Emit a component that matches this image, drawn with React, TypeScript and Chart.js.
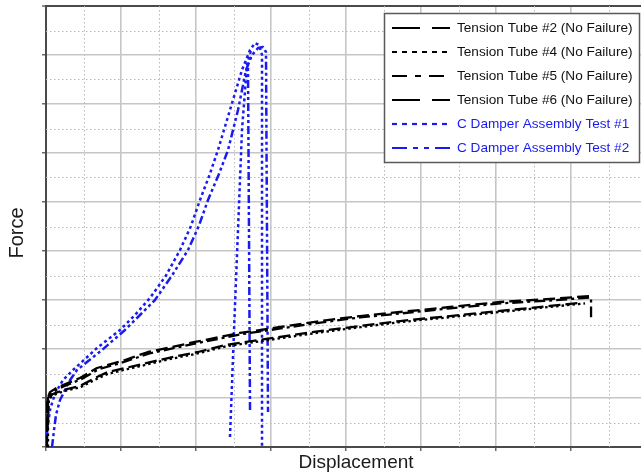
import { useEffect, useRef } from "react";
import { Chart, registerables } from "chart.js";

Chart.register(...registerables);

// Axis extents in grid units (one major grid cell = 1 unit)
const X_MAX = 7.933;
const Y_MAX = 9;

const X_TITLE = "Displacement";
const Y_TITLE = "Force";

const SERIES_LABELS = [
  "Tension Tube #2 (No Failure)",
  "Tension Tube #4 (No Failure)",
  "Tension Tube #5 (No Failure)",
  "Tension Tube #6 (No Failure)",
  "C Damper Assembly Test #1",
  "C Damper Assembly Test #2",
];

type Pt = [number, number] | null;

// Tension tube load curves (displacement, force)
const TUBE_2: Pt[] = [
  [0, 0], [0.013, 0.55], [0.013, 0.96], [0.053, 1.12], [0.133, 1.2], [0.227, 1.265],
  [0.453, 1.408], [0.68, 1.612], [1.013, 1.755], [1.36, 1.939], [1.987, 2.143],
  [2.587, 2.327], [3.12, 2.449], [3.653, 2.571], [4.187, 2.673], [4.72, 2.755],
  [5.387, 2.857], [6.053, 2.959], [6.72, 3.02], [7.253, 3.082],
];

const TUBE_4: Pt[] = [
  [0.027, 0], [0.027, 0.55], [0.04, 0.98], [0.1, 1.06], [0.24, 1.14], [0.46, 1.22],
  [0.69, 1.4], [0.84, 1.5], [1.24, 1.645], [1.64, 1.79], [2.04, 1.915], [2.4, 2.055],
  [3.13, 2.22], [3.66, 2.34], [4.19, 2.445], [4.73, 2.55], [5.39, 2.65], [6.06, 2.755],
  [6.72, 2.86], [7.187, 2.93],
];

const TUBE_5: Pt[] = [
  [0.013, 0], [0.02, 0.6], [0.027, 1.0], [0.07, 1.1], [0.15, 1.18], [0.24, 1.24],
  [0.47, 1.385], [0.7, 1.585], [1.03, 1.73], [1.38, 1.91], [2.0, 2.115], [2.6, 2.3],
  [3.13, 2.42], [3.66, 2.54], [4.19, 2.645], [4.73, 2.725], [5.39, 2.83], [6.06, 2.93],
  [6.72, 2.99], [7.267, 3.05], [7.267, 2.65],
];

const TUBE_6: Pt[] = [
  [0, 0], [0.027, 0.55], [0.027, 1.0], [0.093, 1.082], [0.227, 1.163], [0.453, 1.245],
  [0.68, 1.429], [0.827, 1.531], [1.227, 1.673], [1.627, 1.816], [2.027, 1.939],
  [2.387, 2.082], [3.12, 2.245], [3.653, 2.367], [4.187, 2.469], [4.72, 2.571],
  [5.387, 2.673], [6.053, 2.776], [6.72, 2.878], [7.12, 2.94],
];

// C damper assembly tests: loading to peak, then unloading branches
const DAMPER_1: Pt[] = [
  [0, 0], [0.013, 0.245], [0.027, 0.449], [0.053, 0.755], [0.093, 0.959], [0.133, 1.122],
  [0.227, 1.367], [0.36, 1.571], [0.68, 2.02], [0.987, 2.388], [1.187, 2.694],
  [1.387, 3.041], [1.6, 3.5], [1.787, 4.02], [1.93, 4.5], [2.053, 5.041], [2.18, 5.55],
  [2.293, 6.061], [2.453, 6.878], [2.613, 7.694], [2.72, 8.102], [2.787, 8.245],
  [2.84, 8.204], [2.88, 8.0], [2.88, 0],
  null,
  [2.453, 0.204], [2.507, 2.388], [2.56, 4.429], [2.613, 6.469], [2.68, 7.796], [2.733, 8.1],
];

const DAMPER_2: Pt[] = [
  [0.08, 0], [0.107, 0.347], [0.133, 0.653], [0.187, 0.959], [0.24, 1.122], [0.293, 1.306],
  [0.413, 1.571], [0.747, 1.98], [1.053, 2.388], [1.253, 2.694], [1.453, 3.0],
  [1.68, 3.5], [1.893, 4.02], [2.04, 4.52], [2.16, 5.041], [2.3, 5.55], [2.427, 6.061],
  [2.56, 6.878], [2.667, 7.694], [2.747, 8.0], [2.827, 8.143], [2.893, 8.163],
  [2.933, 8.061], [2.96, 0.714],
  null,
  [2.72, 0.755], [2.707, 4.224], [2.693, 7.837],
];

const SERIES_DATA = [TUBE_2, TUBE_4, TUBE_5, TUBE_6, DAMPER_1, DAMPER_2];

const BLACK = "#000000";
const BLUE = "#1a1af2";
const SERIES_COLORS = [BLACK, BLACK, BLACK, BLACK, BLUE, BLUE];
const SERIES_WIDTHS = [2.3, 2.3, 2.3, 2.3, 2.5, 2.5];
const PLOT_DASHES = [
  [12, 5],
  [2.5, 3],
  [11, 4, 3, 4],
  [12, 5],
  [3, 3],
  [8, 3, 3, 3, 3, 3],
];
const LEGEND_DASHES = [
  [28, 12],
  [5, 5],
  [15, 8, 6, 8],
  [28, 12],
  [5, 5],
  [15, 6, 5, 6, 5, 6],
];

const FONT = '"Liberation Sans", Arial, Helvetica, sans-serif';

function toPoints(arr: Pt[]) {
  const out: { x: number; y: number | null }[] = [];
  let lastX = 0;
  for (const p of arr) {
    if (p === null) {
      out.push({ x: lastX, y: null });
    } else {
      out.push({ x: p[0], y: p[1] });
      lastX = p[0];
    }
  }
  return out;
}

const backgroundPlugin = {
  id: "whiteBackground",
  beforeDraw(chart: any) {
    const { ctx, width, height } = chart;
    ctx.save();
    ctx.fillStyle = "#ffffff";
    ctx.fillRect(0, 0, width, height);
    ctx.restore();
  },
};

// Dotted minor grid at half-unit positions
const minorGridPlugin = {
  id: "minorGrid",
  beforeDatasetsDraw(chart: any) {
    const { ctx, chartArea: a, scales } = chart;
    ctx.save();
    ctx.strokeStyle = "#b8b8b8";
    ctx.lineWidth = 1;
    ctx.setLineDash([1.5, 2.5]);
    for (let v = 0.5; v < X_MAX; v += 1) {
      const px = Math.round(scales.x.getPixelForValue(v)) + 0.5;
      ctx.beginPath();
      ctx.moveTo(px, a.top);
      ctx.lineTo(px, a.bottom);
      ctx.stroke();
    }
    for (let v = 0.5; v < Y_MAX; v += 1) {
      const py = Math.round(scales.y.getPixelForValue(v)) + 0.5;
      ctx.beginPath();
      ctx.moveTo(a.left, py);
      ctx.lineTo(a.right, py);
      ctx.stroke();
    }
    ctx.restore();
  },
};

const titlesPlugin = {
  id: "axisTitles",
  afterDraw(chart: any) {
    const { ctx, chartArea: a } = chart;
    ctx.save();
    ctx.fillStyle = "#1a1a1a";
    ctx.font = `19px ${FONT}`;
    ctx.textAlign = "center";
    ctx.textBaseline = "middle";
    ctx.fillText(X_TITLE, a.left + 310, a.bottom + 16);
    ctx.translate(17, 233);
    ctx.rotate(-Math.PI / 2);
    ctx.font = `20px ${FONT}`;
    ctx.fillText(Y_TITLE, 0, 0);
    ctx.restore();
  },
};

const legendPlugin = {
  id: "boxLegend",
  afterDraw(chart: any) {
    const { ctx } = chart;
    const L = 384;
    const T = 13;
    const W = 255;
    const H = 149;
    ctx.save();
    ctx.fillStyle = "#ffffff";
    ctx.fillRect(L, T, W, H);
    ctx.strokeStyle = "#5a5a5a";
    ctx.lineWidth = 1.5;
    ctx.strokeRect(L + 0.5, T + 0.5, W, H);
    ctx.font = `13.6px ${FONT}`;
    ctx.textBaseline = "middle";
    ctx.textAlign = "left";
    chart.data.datasets.forEach((ds: any, i: number) => {
      const y = T + 15 + i * 24;
      ctx.beginPath();
      ctx.setLineDash(LEGEND_DASHES[i]);
      ctx.strokeStyle = ds.borderColor;
      ctx.lineWidth = 2.2;
      ctx.moveTo(L + 8, y);
      ctx.lineTo(L + 66, y);
      ctx.stroke();
      ctx.setLineDash([]);
      ctx.fillStyle = i < 4 ? "#111111" : BLUE;
      ctx.fillText(ds.label, L + 73, y + 0.5);
    });
    ctx.restore();
  },
};

export default function App() {
  const canvasRef = useRef<HTMLCanvasElement | null>(null);

  useEffect(() => {
    document.body.style.margin = "0";
    const canvas = canvasRef.current;
    if (!canvas) return;

    const datasets = SERIES_DATA.map((d, i) => ({
      label: SERIES_LABELS[i],
      data: toPoints(d),
      borderColor: SERIES_COLORS[i],
      backgroundColor: SERIES_COLORS[i],
      borderWidth: SERIES_WIDTHS[i],
      borderDash: PLOT_DASHES[i],
      borderCapStyle: "butt" as const,
      borderJoinStyle: "round" as const,
      pointRadius: 0,
      pointHoverRadius: 0,
      tension: 0,
      fill: false,
      spanGaps: false,
      showLine: true,
    }));

    const chart = new Chart(canvas, {
      type: "line",
      data: { datasets },
      options: {
        animation: false,
        responsive: false,
        devicePixelRatio: 1,
        layout: { padding: { left: 42, top: 6, right: 0, bottom: 23 } },
        plugins: {
          legend: { display: false },
          tooltip: { enabled: false },
        },
        scales: {
          x: {
            type: "linear",
            min: 0,
            max: X_MAX,
            ticks: { display: false, stepSize: 1, includeBounds: false },
            grid: {
              color: "#c6c6c6",
              lineWidth: 1.6,
              drawTicks: true,
              tickLength: 4,
              tickColor: "#444444",
              tickWidth: 1.2,
            },
            border: { display: true, color: "#4a4a4a", width: 2 },
          },
          y: {
            type: "linear",
            min: 0,
            max: Y_MAX,
            ticks: { display: false, stepSize: 1, includeBounds: false },
            grid: {
              color: (c: any) => (c.tick && c.tick.value === Y_MAX ? "#4a4a4a" : "#c6c6c6"),
              lineWidth: (c: any) => (c.tick && c.tick.value === Y_MAX ? 2 : 1.6),
              drawTicks: true,
              tickLength: 4,
              tickColor: "#444444",
              tickWidth: 1.2,
            },
            border: { display: true, color: "#4a4a4a", width: 2 },
          },
        },
      },
      plugins: [backgroundPlugin, minorGridPlugin, titlesPlugin, legendPlugin],
    });

    return () => chart.destroy();
  }, []);

  return (
    <div style={{ position: "absolute", left: 0, top: 0, width: 641, height: 474 }}>
      <canvas ref={canvasRef} width={641} height={474} />
    </div>
  );
}
